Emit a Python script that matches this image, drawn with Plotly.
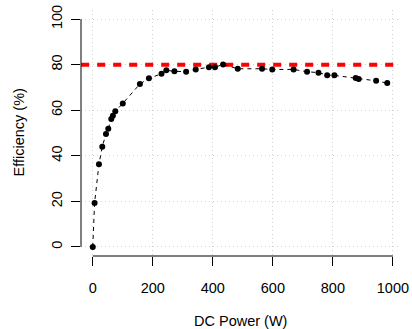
import plotly.graph_objects as go

# Data
dc_power = [0, 6, 20.6, 31.6, 44, 51.6, 61.6, 67, 75, 100, 157, 187, 229, 245, 272, 311,
            343, 387, 407, 434, 483, 564, 598, 669, 714, 752, 781, 805, 876, 886, 944, 981]
efficiency = [0, 19.3, 36.3, 44, 49.6, 51.9, 56.1, 57.6, 59.5, 63, 71.5, 74, 76, 77.5, 77.1, 76.9,
              77.9, 78.9, 78.9, 80.1, 78.2, 78.2, 77.9, 77.9, 76.9, 76.5, 75.4, 75.3, 74.1, 73.7, 72.9, 71.9]
reference_efficiency = 80
x_ticks = [0, 200, 400, 600, 800, 1000]
y_ticks = [0, 20, 40, 60, 80, 100]

FONT = "Liberation Sans, Arial, Helvetica, sans-serif"
FS = 14.5

# R-style 4% axis padding
xmin, xmax = min(dc_power), max(dc_power)
xpad = 0.04 * (xmax - xmin)
ylo, yhi = 0, 100
ypad = 0.04 * (yhi - ylo)
x_range = [xmin - xpad, xmax + xpad]

fig = go.Figure()
# Reference line (drawn first, points on top)
fig.add_trace(go.Scatter(
    x=[x_range[0] + 0.6, x_range[1]], y=[reference_efficiency, reference_efficiency], mode="lines",
    line=dict(color="#ff0000", width=4, dash="8px,8px"),
    showlegend=False, hoverinfo="skip",
))
fig.add_trace(go.Scatter(
    x=dc_power, y=efficiency, mode="lines+markers",
    line=dict(color="black", width=1, dash="4px,4px"),
    marker=dict(color="black", size=6, line=dict(width=0)),
    showlegend=False, hoverinfo="skip",
))

# R-style axis lines (from first to last tick)
fig.add_shape(type="line", xref="x", yref="paper", x0=x_ticks[0], x1=x_ticks[-1], y0=0, y1=0,
              line=dict(color="black", width=1))
fig.add_shape(type="line", xref="paper", yref="y", x0=0, x1=0, y0=y_ticks[0], y1=y_ticks[-1],
              line=dict(color="black", width=1))

GRID = dict(showgrid=True, gridcolor="#d3d3d3", griddash="1px,3px", gridwidth=1)

fig.update_xaxes(range=x_range, tickvals=x_ticks, ticktext=[str(v) for v in x_ticks],
                 ticks="outside", ticklen=9, tickwidth=1, tickcolor="black",
                 showline=False, zeroline=False, automargin=False, **GRID,
                 tickfont=dict(family=FONT, size=FS, color="black"), ticklabelstandoff=10)
fig.update_yaxes(range=[ylo - ypad, yhi + ypad], tickvals=y_ticks, ticktext=[str(v) for v in y_ticks],
                 ticks="outside", ticklen=9, tickwidth=1, tickcolor="black",
                 showline=False, zeroline=False, tickangle=-90, automargin=False, **GRID,
                 tickfont=dict(family=FONT, size=FS, color="black"), ticklabelstandoff=3)

fig.add_annotation(text="DC Power (W)", xref="paper", yref="paper", x=0.5, y=0,
                   xanchor="center", yanchor="middle", yshift=-65, showarrow=False,
                   font=dict(family=FONT, size=FS, color="black"))
fig.add_annotation(text="Efficiency (%)", xref="paper", yref="paper", x=0, y=0.5,
                   xanchor="center", yanchor="middle", xshift=-62.5, textangle=-90, showarrow=False,
                   font=dict(family=FONT, size=FS, color="black"))

fig.update_layout(
    width=412, height=329,
    margin=dict(l=81, r=13, t=10, b=73),
    paper_bgcolor="white", plot_bgcolor="white",
    font=dict(family=FONT, size=FS, color="black"),
)
fig.write_html("out.html", config={"displayModeBar": False},
               post_script="document.body.style.margin='0';document.body.style.padding='0';")
